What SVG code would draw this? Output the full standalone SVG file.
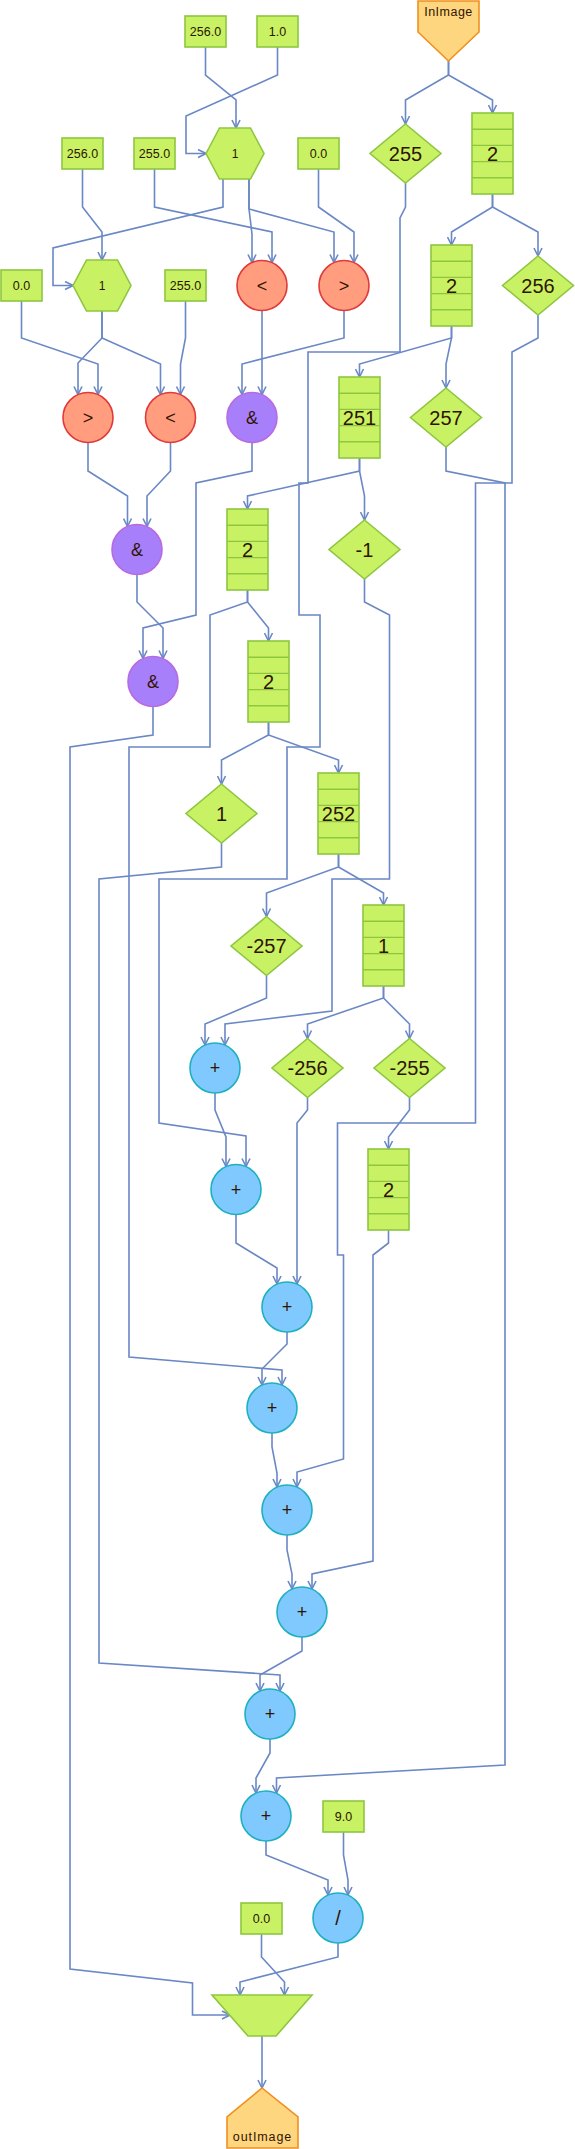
<svg xmlns="http://www.w3.org/2000/svg" width="575" height="2149" viewBox="0 0 575 2149">
<defs>
<style>
.e{fill:none;stroke:#6a88c5;stroke-width:1.6;stroke-linejoin:miter}
.g{fill:#c8f264;stroke:#8ec63f;stroke-width:1.6}
.gl{fill:none;stroke:#8ec63f;stroke-width:1.4}
.r{fill:#ff9d7e;stroke:#e03a3a;stroke-width:1.6}
.p{fill:#a77ffb;stroke:#b86ae0;stroke-width:1.6}
.b{fill:#80c9ff;stroke:#1fb0c0;stroke-width:1.6}
.io{fill:#ffd680;stroke:#f0901e;stroke-width:1.6}
text{font-family:"Liberation Sans",Arial,sans-serif;fill:#301400;text-anchor:middle}
.c{font-size:12.5px}
.d{font-size:20px}
.o{font-size:18px}
.h{font-size:12px}
.t{font-size:12.5px}
</style>
<marker id="a" viewBox="0 0 10 10" markerWidth="10" markerHeight="10" refX="9.5" refY="5" orient="auto" markerUnits="userSpaceOnUse">
<path d="M1.5,1 L9.5,5 L1.5,9" fill="none" stroke="#6a88c5" stroke-width="1.6"/>
</marker>
</defs>
<rect width="575" height="2149" fill="#ffffff"/>
<g id="connectors" marker-end="url(#a)">
<path class="e" d="M205.5,47 V75 L236,100 V128"/>
<path class="e" d="M277.5,47 V75 L186,116 V153.5 H206"/>
<path class="e" d="M448.5,61 V75 L405.5,100 V124"/>
<path class="e" d="M448.5,61 V75 L492.5,100 V113"/>
<path class="e" d="M223,179 V207 L53,248 V285.5 H73"/>
<path class="e" d="M249,179 V209 L252,234 V262.5"/>
<path class="e" d="M249,179 V209 L334,232 V262.5"/>
<path class="e" d="M154.5,169 V207 L272,232 V262.5"/>
<path class="e" d="M318.5,169 V207 L354,232 V262.5"/>
<path class="e" d="M82.5,169 V207 L102,232 V260"/>
<path class="e" d="M405.5,183 V207 L400,218 V352 H308 V483 H299 V615 H320 V747 H287 V879 H159 V1123 L246,1136 V1166.5"/>
<path class="e" d="M492.5,194 V207 L451.5,232 V245"/>
<path class="e" d="M492.5,194 V207 L538,232 V256"/>
<path class="e" d="M102,311 V338 L78,363 V394.5"/>
<path class="e" d="M102,311 V338 L160.5,364 V394.5"/>
<path class="e" d="M21.5,301 V338 L98,364 V394.5"/>
<path class="e" d="M185.5,301 V338 L180.5,364 V394.5"/>
<path class="e" d="M262,310.5 V394.5"/>
<path class="e" d="M344,310.5 V338 L242,364 V394.5"/>
<path class="e" d="M451.5,326 V338 L359.5,364 V377"/>
<path class="e" d="M451.5,326 V338 L446,364 V388"/>
<path class="e" d="M538,315 V338 L512,352 V483 H475.5 V1123 H337.5 V1255 H343.5 V1459 L297,1472 V1487"/>
<path class="e" d="M446,447 V471 L505,483 V1765 L276.5,1778 V1793"/>
<path class="e" d="M359.5,458 V471 L247.5,496 V509"/>
<path class="e" d="M359.5,458 V471 L364.5,496 V520"/>
<path class="e" d="M252,442.5 V471 L196,483 V615 L143,628 V658.5"/>
<path class="e" d="M88,442.5 V471 L127.5,496 V526.5"/>
<path class="e" d="M170.5,442.5 V471 L147,496 V526.5"/>
<path class="e" d="M137,574.5 V602 L163,628 V658.5"/>
<path class="e" d="M247.5,590 V602 L268.5,628 V641"/>
<path class="e" d="M247.5,590 V602 L210,615 V747 H129 V1357 L282,1370 V1385"/>
<path class="e" d="M364.5,579 V602 L389.5,615 V879 H332 V1011 L225,1024 V1045"/>
<path class="e" d="M153,706.5 V735 L70,747 V1969 L192.5,1983 V2015 H230"/>
<path class="e" d="M268.5,722 V735 L221.5,760 V784"/>
<path class="e" d="M268.5,722 V735 L338.5,760 V773"/>
<path class="e" d="M221.5,843 V867 L99,879 V1663 L280,1675 V1691"/>
<path class="e" d="M338.5,854 V867 L266.5,893 V916.5"/>
<path class="e" d="M338.5,854 V867 L383.5,893 V905"/>
<path class="e" d="M266.5,975.5 V998 L205,1024 V1045"/>
<path class="e" d="M383.5,986 V998 L307.5,1024 V1038.5"/>
<path class="e" d="M383.5,986 V998 L409.5,1024 V1038.5"/>
<path class="e" d="M215,1093 V1110 L226,1137 V1166.5"/>
<path class="e" d="M307.5,1097.5 V1110 L297,1123 V1284"/>
<path class="e" d="M409.5,1097.5 V1110 L388.5,1137 V1149"/>
<path class="e" d="M236,1214.5 V1243 L277,1268 V1284"/>
<path class="e" d="M287,1332 V1344 L262,1369 V1385"/>
<path class="e" d="M388.5,1230 V1243 L373,1255 V1561 L312,1574 V1589"/>
<path class="e" d="M272,1433 V1447 L277,1473 V1487"/>
<path class="e" d="M287,1535 V1550 L292,1574 V1589"/>
<path class="e" d="M302,1637 V1651 L260,1675 V1691"/>
<path class="e" d="M270,1739 V1753 L256,1778 V1793"/>
<path class="e" d="M266,1841 V1855 L328,1880 V1895"/>
<path class="e" d="M343.5,1832 V1855 L348,1880 V1895"/>
<path class="e" d="M338,1943 V1957 L240,1982 V1995"/>
<path class="e" d="M261.5,1934 V1957 L284.5,1982 V1995"/>
<path class="e" d="M262,2036 V2088"/>
</g>
<g id="inImage"><polygon class="io" points="418,1 479,1 479,32 448.5,61 418,32"/><text class="t" x="448.5" y="16" letter-spacing="0.5">InImage</text></g>
<g id="c256a"><rect class="g" x="185" y="16" width="41" height="31"/><text class="c" x="205.5" y="36">256.0</text></g>
<g id="c1"><rect class="g" x="257" y="16" width="41" height="31"/><text class="c" x="277.5" y="36">1.0</text></g>
<g id="c256b"><rect class="g" x="62" y="138" width="41" height="31"/><text class="c" x="82.5" y="158">256.0</text></g>
<g id="c255a"><rect class="g" x="134" y="138" width="41" height="31"/><text class="c" x="154.5" y="158">255.0</text></g>
<g id="c0a"><rect class="g" x="298" y="138" width="41" height="31"/><text class="c" x="318.5" y="158">0.0</text></g>
<g id="c0b"><rect class="g" x="1" y="270" width="41" height="31"/><text class="c" x="21.5" y="290">0.0</text></g>
<g id="c255b"><rect class="g" x="165" y="270" width="41" height="31"/><text class="c" x="185.5" y="290">255.0</text></g>
<g id="c9"><rect class="g" x="323" y="1801" width="41" height="31"/><text class="c" x="343.5" y="1821">9.0</text></g>
<g id="c0c"><rect class="g" x="241" y="1903" width="41" height="31"/><text class="c" x="261.5" y="1923">0.0</text></g>
<g id="hex1"><polygon class="g" points="206,153.5 219.5,128 250.5,128 264,153.5 250.5,179 219.5,179"/><text class="h" x="235" y="158">1</text></g>
<g id="hex2"><polygon class="g" points="73,285.5 86.5,260 117.5,260 131,285.5 117.5,311 86.5,311"/><text class="h" x="102" y="290">1</text></g>
<g id="d255"><polygon class="g" points="405.5,124 441,153.5 405.5,183 370,153.5"/><text class="d" x="405.5" y="160.7">255</text></g>
<g id="d256"><polygon class="g" points="538,256 573.5,285.5 538,315 502.5,285.5"/><text class="d" x="538" y="292.7">256</text></g>
<g id="d257"><polygon class="g" points="446,388 481.5,417.5 446,447 410.5,417.5"/><text class="d" x="446" y="424.7">257</text></g>
<g id="dm1"><polygon class="g" points="364.5,520 400,549.5 364.5,579 329,549.5"/><text class="d" x="364.5" y="556.7">-1</text></g>
<g id="d1"><polygon class="g" points="221.5,784 257,813.5 221.5,843 186,813.5"/><text class="d" x="221.5" y="820.7">1</text></g>
<g id="dm257"><polygon class="g" points="266.5,916.5 302,946 266.5,975.5 231,946"/><text class="d" x="266.5" y="953.2">-257</text></g>
<g id="dm256"><polygon class="g" points="307.5,1038.5 343,1068 307.5,1097.5 272,1068"/><text class="d" x="307.5" y="1075.2">-256</text></g>
<g id="dm255"><polygon class="g" points="409.5,1038.5 445,1068 409.5,1097.5 374,1068"/><text class="d" x="409.5" y="1075.2">-255</text></g>
<g id="s2a"><rect class="g" x="472" y="113" width="41" height="81"/><path class="gl" d="M472,129.2 H513 M472,145.4 H513 M472,161.6 H513 M472,177.8 H513"/><text class="d" x="492.5" y="160.7">2</text></g>
<g id="s2b"><rect class="g" x="431" y="245" width="41" height="81"/><path class="gl" d="M431,261.2 H472 M431,277.4 H472 M431,293.6 H472 M431,309.8 H472"/><text class="d" x="451.5" y="292.7">2</text></g>
<g id="s251"><rect class="g" x="339" y="377" width="41" height="81"/><path class="gl" d="M339,393.2 H380 M339,409.4 H380 M339,425.6 H380 M339,441.8 H380"/><text class="d" x="359.5" y="424.7">251</text></g>
<g id="s2c"><rect class="g" x="227" y="509" width="41" height="81"/><path class="gl" d="M227,525.2 H268 M227,541.4 H268 M227,557.6 H268 M227,573.8 H268"/><text class="d" x="247.5" y="556.7">2</text></g>
<g id="s2d"><rect class="g" x="248" y="641" width="41" height="81"/><path class="gl" d="M248,657.2 H289 M248,673.4 H289 M248,689.6 H289 M248,705.8 H289"/><text class="d" x="268.5" y="688.7">2</text></g>
<g id="s252"><rect class="g" x="318" y="773" width="41" height="81"/><path class="gl" d="M318,789.2 H359 M318,805.4 H359 M318,821.6 H359 M318,837.8 H359"/><text class="d" x="338.5" y="820.7">252</text></g>
<g id="s1"><rect class="g" x="363" y="905" width="41" height="81"/><path class="gl" d="M363,921.2 H404 M363,937.4 H404 M363,953.6 H404 M363,969.8 H404"/><text class="d" x="383.5" y="952.7">1</text></g>
<g id="s2e"><rect class="g" x="368" y="1149" width="41" height="81"/><path class="gl" d="M368,1165.2 H409 M368,1181.4 H409 M368,1197.6 H409 M368,1213.8 H409"/><text class="d" x="388.5" y="1196.7">2</text></g>
<g id="lt1"><circle class="r" cx="262" cy="285.5" r="25"/><text class="o" x="262" y="291.5">&lt;</text></g>
<g id="gt1"><circle class="r" cx="344" cy="285.5" r="25"/><text class="o" x="344" y="291.5">&gt;</text></g>
<g id="gt2"><circle class="r" cx="88" cy="417.5" r="25"/><text class="o" x="88" y="423.5">&gt;</text></g>
<g id="lt2"><circle class="r" cx="170.5" cy="417.5" r="25"/><text class="o" x="170.5" y="423.5">&lt;</text></g>
<g id="and1"><circle class="p" cx="252" cy="417.5" r="25"/><text class="o" x="252" y="424">&amp;</text></g>
<g id="and2"><circle class="p" cx="137" cy="549.5" r="25"/><text class="o" x="137" y="556">&amp;</text></g>
<g id="and3"><circle class="p" cx="153" cy="681.5" r="25"/><text class="o" x="153" y="688">&amp;</text></g>
<g id="plus1"><circle class="b" cx="215" cy="1068" r="25"/><text class="o" x="215" y="1074">+</text></g>
<g id="plus2"><circle class="b" cx="236" cy="1189.5" r="25"/><text class="o" x="236" y="1195.5">+</text></g>
<g id="plus3"><circle class="b" cx="287" cy="1307" r="25"/><text class="o" x="287" y="1313">+</text></g>
<g id="plus4"><circle class="b" cx="272" cy="1408" r="25"/><text class="o" x="272" y="1414">+</text></g>
<g id="plus5"><circle class="b" cx="287" cy="1510" r="25"/><text class="o" x="287" y="1516">+</text></g>
<g id="plus6"><circle class="b" cx="302" cy="1612" r="25"/><text class="o" x="302" y="1618">+</text></g>
<g id="plus7"><circle class="b" cx="270" cy="1714" r="25"/><text class="o" x="270" y="1720">+</text></g>
<g id="plus8"><circle class="b" cx="266" cy="1816" r="25"/><text class="o" x="266" y="1822">+</text></g>
<g id="div"><circle class="b" cx="338" cy="1918" r="25"/><text class="d" x="338" y="1925">/</text></g>
<g id="select"><polygon class="g" points="212,1995 312,1995 276,2036 248,2036"/></g>
<g id="outImage"><polygon class="io" points="227,2148 227,2117 262,2088 298,2117 298,2148"/><text class="t" x="262.5" y="2141" letter-spacing="0.9">outImage</text></g>
</svg>
